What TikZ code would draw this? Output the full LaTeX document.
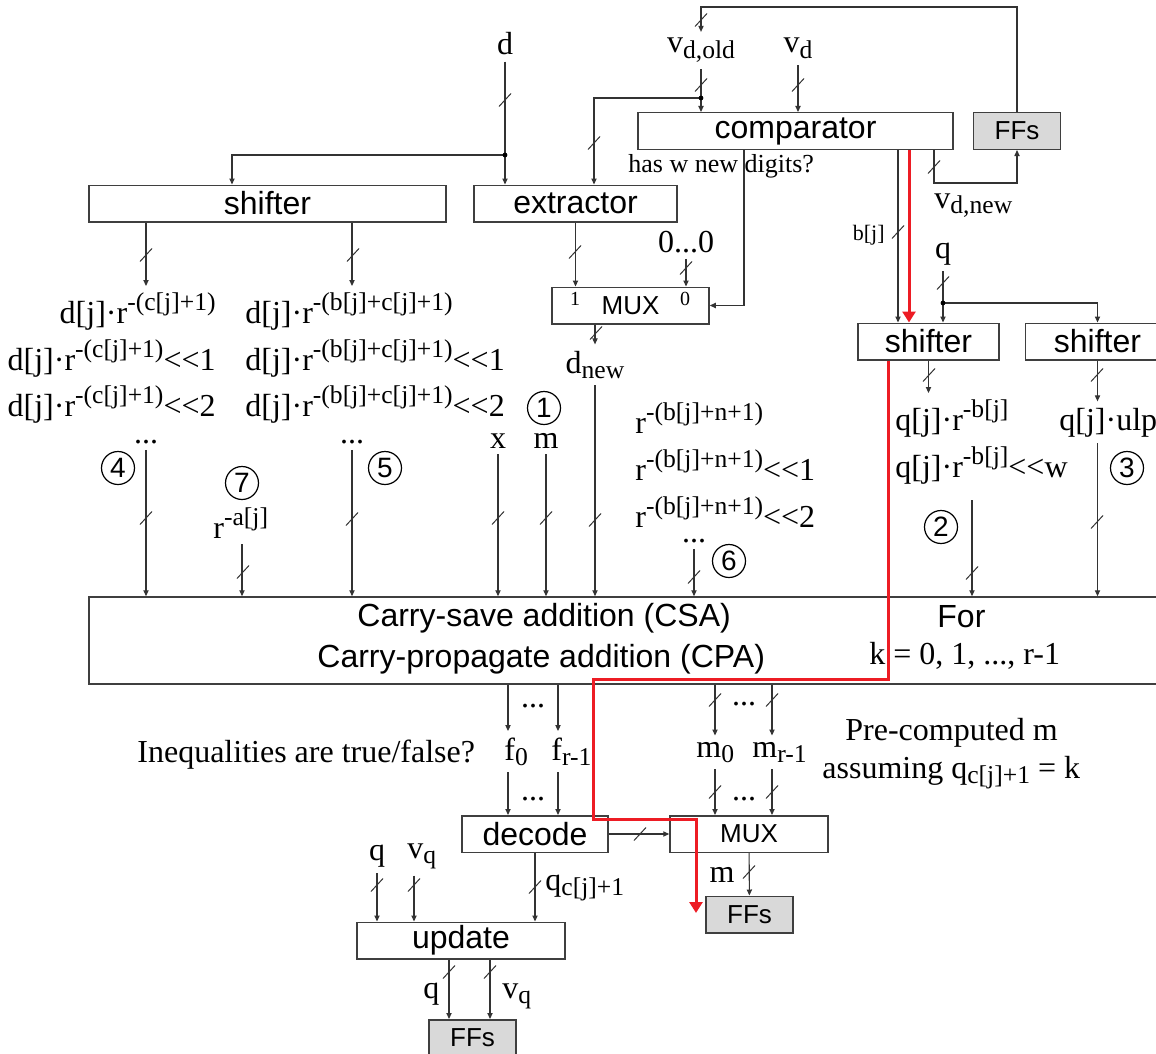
\documentclass[tikz,border=0pt]{standalone}
\usepackage{fontspec}
\setmainfont{Liberation Serif}
\setsansfont{Liberation Sans}
\usepackage{xcolor}
\definecolor{boxGray}{HTML}{3F3F3F}
\definecolor{lineGray}{HTML}{333333}
\definecolor{ffGray}{HTML}{D9D9D9}
\definecolor{critRed}{HTML}{ED1C24}
\usepackage{tikz}
\usetikzlibrary{
    arrows.meta,
    positioning
}
% raised / lowered index text as the slide draws it
\newcommand\suptxt[1]{\raisebox{0.4em}{\fontsize{12.8}{12.8}\selectfont #1}}
\newcommand\subtxt[1]{\raisebox{-0.18em}{\fontsize{12.8}{12.8}\selectfont #1}}
% two less-than signs, kept apart from the font's << ligature
\newcommand\shl{<\kern0pt<}
\tikzset{
    % Base style for the hardware blocks
    block/.style={
        draw=boxGray,
        line width=0.75pt,
        fill=white,
        inner sep=0pt,
        minimum height=18.25pt,
        font=\sffamily\fontsize{16}{16}\selectfont,
    },
    % Flip-flops - grey filled block
    ffbox/.style={
        block,
        fill=ffGray,
        minimum width=43.5pt,
        font=\sffamily\fontsize{13}{13}\selectfont,
    },
    % Multiplexers - smaller text
    muxbox/.style={
        block,
        font=\sffamily\fontsize{13}{13}\selectfont,
    },
    % Signal names
    sig text/.style={
        font=\fontsize{16}{16}\selectfont,
        inner xsep=0pt,
        inner ysep=3pt,
    },
    small text/.style={
        font=\fontsize{13}{13}\selectfont,
        inner xsep=0pt,
        inner ysep=1pt,
    },
    % Circled step numbers
    stepnum/.style={
        circle,
        draw=black,
        line width=0.6pt,
        minimum size=16.5pt,
        inner sep=0pt,
        font=\sffamily\fontsize{14}{14}\selectfont,
    },
    % Wires and arrows
    wire/.style={
        line width=0.55pt,
        draw=lineGray,
    },
    arrow/.style={
        wire,
        -{Triangle[length=3pt, width=2.6pt]},
    },
    red arrow/.style={
        line width=1.5pt,
        draw=critRed,
        -{Triangle[length=5.5pt, width=6.5pt]},
    },
    junction/.style={
        circle,
        fill=black,
        inner sep=0pt,
        minimum size=2.4pt,
    },
    % Bus width slash
    bus/.pic={
        \draw[line width=0.5pt, lineGray] (-6,6.5) -- (6,-6.5);
    },
}

\begin{document}
\begin{tikzpicture}[x=0.5pt, y=-0.5pt]
    \useasboundingbox (0,0) rectangle (1156,1054);

    % blocks
    \node (cmp) [block, minimum width=157.5pt] at (795.5,131) {comparator};
    \node (ffd) [ffbox] at (1017,131) {FFs};
    \node (shd) [block, minimum width=178.5pt] at (267.5,203.5) {shifter};
    \node (ext) [block, minimum width=101.5pt] at (575.5,203.5) {extractor};
    \node (muxd) [muxbox, minimum width=78.5pt] at (630.5,305.5) {MUX};
    \node (shq) [block, minimum width=70.5pt] at (928.5,341.5) {shifter};
    \node (shu) [block, minimum width=72pt] at (1097.5,341.5) {shifter};
    \node (csa) [block, minimum width=555.5pt, minimum height=43.5pt] at (644.5,640.5) {};
    \node (dec) [block, minimum width=73pt] at (535,834) {decode};
    \node (muxm) [muxbox, minimum width=79pt] at (749,834) {MUX};
    \node (ffm) [ffbox] at (749.5,914.5) {FFs};
    \node (upd) [block, minimum width=104pt] at (461,940.5) {update};
    \node (ffq) [ffbox] at (472.5,1038) {FFs};

    % texts inside the adder block
    \node (csatext) [font=\sffamily\fontsize{16}{16}\selectfont, inner sep=0pt, anchor=base west] at (357,626) {Carry-save addition (CSA)};
    \node (cpatext) [font=\sffamily\fontsize{16}{16}\selectfont, inner sep=0pt, anchor=base west] at (317,667) {Carry-propagate addition (CPA)};
    \node (fortext) [font=\sffamily\fontsize{16}{16}\selectfont, inner sep=0pt, anchor=base west] at (937,627) {For};
    \node (krange) [sig text, anchor=base west] at (869,664) {k = 0, 1, ..., r-1};

    % top signals
    \node (din) [sig text, anchor=base] at (505,55) {d};
    \node (vdold) [sig text, anchor=base] at (701,53) {v\subtxt{d,old}};
    \node (vd) [sig text, anchor=base] at (798,53) {v\subtxt{d}};
    \node (digits) [small text, anchor=base west] at (628,172) {has w new digits?};
    \node (vdnew) [sig text, anchor=base west] at (934,208) {v\subtxt{d,new}};
    \node (bj) [small text, font=\fontsize{11}{11}\selectfont, anchor=base east] at (885,240) {b[j]};
    \node (qin) [sig text, anchor=base] at (943,258) {q};
    \node (zeros) [sig text, anchor=base] at (686,252) {0...0};
    \node (sel1) [small text, font=\fontsize{10}{10}\selectfont] at (575,299) {1};
    \node (sel0) [small text, font=\fontsize{10}{10}\selectfont] at (685,299) {0};
    \node (dnew) [sig text, anchor=base] at (595,373) {d\subtxt{new}};

    % shifted divisor terms
    \node (dc0) [sig text, anchor=base east] at (216,323) {d[j]·r\suptxt{-(c[j]+1)}};
    \node (dc1) [sig text, anchor=base east] at (216,370) {d[j]·r\suptxt{-(c[j]+1)}\shl1};
    \node (dc2) [sig text, anchor=base east] at (216,416) {d[j]·r\suptxt{-(c[j]+1)}\shl2};
    \node (dcdots) [sig text, anchor=base] at (146,443) {...};
    \node (db0) [sig text, anchor=base west] at (245,323) {d[j]·r\suptxt{-(b[j]+c[j]+1)}};
    \node (db1) [sig text, anchor=base west] at (245,370) {d[j]·r\suptxt{-(b[j]+c[j]+1)}\shl1};
    \node (db2) [sig text, anchor=base west] at (245,416) {d[j]·r\suptxt{-(b[j]+c[j]+1)}\shl2};
    \node (dbdots) [sig text, anchor=base] at (352,443) {...};
    \node (n4) [stepnum] at (118,468) {4};
    \node (n5) [stepnum] at (385,468) {5};
    \node (n7) [stepnum] at (242,483) {7};
    \node (raj) [sig text, anchor=base west] at (213,538) {r\suptxt{-a[j]}};
    \node (n1) [stepnum] at (544,408) {1};
    \node (xin) [sig text, anchor=base] at (498,448) {x};
    \node (min) [sig text, anchor=base] at (546,448) {m};

    % rounding terms
    \node (rb0) [sig text, anchor=base west] at (635,433) {r\suptxt{-(b[j]+n+1)}};
    \node (rb1) [sig text, anchor=base west] at (635,480) {r\suptxt{-(b[j]+n+1)}\shl1};
    \node (rb2) [sig text, anchor=base west] at (635,527) {r\suptxt{-(b[j]+n+1)}\shl2};
    \node (rbdots) [sig text, anchor=base] at (694,542) {...};
    \node (n6) [stepnum] at (729,561) {6};

    % quotient terms
    \node (qr0) [sig text, anchor=base west] at (895,430) {q[j]·r\suptxt{-b[j]}};
    \node (qr1) [sig text, anchor=base west] at (895,477) {q[j]·r\suptxt{-b[j]}\shl w};
    \node (n2) [stepnum] at (941,527) {2};
    \node (qulp) [sig text, anchor=base west] at (1059,430) {q[j]·ulp};
    \node (n3) [stepnum] at (1127,468) {3};

    % lower signals
    \node (ineq) [sig text, anchor=base west] at (137,762) {Inequalities are true/false?};
    \node (f0) [sig text, anchor=base west] at (504,760) {f\subtxt{0}};
    \node (fr) [sig text, anchor=base west] at (551,760) {f\subtxt{r-1}};
    \node (fdots1) [sig text, anchor=base] at (533,707) {...};
    \node (fdots2) [sig text, anchor=base] at (533,800) {...};
    \node (m0) [sig text, anchor=base west] at (696,757) {m\subtxt{0}};
    \node (mr) [sig text, anchor=base west] at (752,757) {m\subtxt{r-1}};
    \node (mdots1) [sig text, anchor=base] at (744,705) {...};
    \node (mdots2) [sig text, anchor=base] at (744,800) {...};
    \node (precomp) [sig text, anchor=base west] at (845,740) {Pre-computed m};
    \node (assume) [sig text, anchor=base west] at (822,778) {assuming q\subtxt{c[j]+1} = k};
    \node (mout) [sig text, anchor=base east] at (735,882) {m};
    \node (qc) [sig text, anchor=base west] at (545,890) {q\subtxt{c[j]+1}};
    \node (qold) [sig text, anchor=base] at (377,860) {q};
    \node (vqold) [sig text, anchor=base west] at (407,858) {v\subtxt{q}};
    \node (qnew) [sig text, anchor=base west] at (423,998) {q};
    \node (vqnew) [sig text, anchor=base west] at (502,998) {v\subtxt{q}};

    % tap points and bends
    \coordinate (dsplit) at (505,155);
    \coordinate (vsplit) at (701,98);
    \coordinate (fbtop) at (701,7);
    \coordinate (vnew) at (934,183);
    \coordinate (seltap) at (744,305.5);
    \coordinate (bjx) at (898,0);
    \coordinate (critx) at (909,0);
    \coordinate (qsplit) at (943,303);
    \coordinate (qwx) at (972,500);
    \coordinate (fa) at (508,0);
    \coordinate (fb) at (558,0);
    \coordinate (ma) at (715,0);
    \coordinate (mb) at (772,0);
    \coordinate (vqx) at (414,0);
    \coordinate (uq) at (449,0);
    \coordinate (uv) at (490,0);
    \coordinate (r1) at (888,679);
    \coordinate (r2) at (593,819);
    \coordinate (r3) at (696,913);

    % divisor path
    \draw [arrow] (din) -- (din |- ext.north);
    \draw [arrow] (dsplit) -| ([xshift=-17.75pt]shd.north);
    \node [junction] at (dsplit) {};
    \draw [arrow] (vdold) -- (vdold |- cmp.north);
    \draw [arrow] (vsplit) -| ([xshift=9.25pt]ext.north);
    \node [junction] at (vsplit) {};
    \draw [arrow] (vd) -- (vd |- cmp.north);
    \draw [arrow] (ffd.north) |- (fbtop) -- (vdold.north);
    \draw [arrow] (cmp.south -| vnew) -- (vnew) -| (ffd.south);
    \draw [arrow] (cmp.south -| seltap) -- (seltap) -- (muxd.east);
    \draw [arrow] (ext) -- (ext |- muxd.north);
    \draw [arrow] (zeros) -- (zeros |- muxd.north);
    \draw [arrow] (muxd.south -| dnew) -- (dnew);
    \draw [arrow] (shd.south -| dcdots) -- (dc0.north -| dcdots);
    \draw [arrow] (shd.south -| dbdots) -- (db0.north -| dbdots);

    % quotient path
    \draw [arrow] (cmp.south -| bjx) -- (shq.north -| bjx);
    \draw [arrow] (qin) -- (qin |- shq.north);
    \draw [arrow] (qsplit) -| (shu.north);
    \node [junction] at (qsplit) {};
    \draw [arrow] (shq) -- (shq |- qr0.north);
    \draw [arrow] (shu) -- (shu |- qulp.north);

    % adder inputs
    \draw [arrow] (dcdots) -- (dcdots |- csa.north);
    \draw [arrow] (raj.south -| n7) -- (csa.north -| n7);
    \draw [arrow] (dbdots) -- (dbdots |- csa.north);
    \draw [arrow] (xin) -- (xin |- csa.north);
    \draw [arrow] (min) -- (min |- csa.north);
    \draw [arrow] (dnew) -- (dnew |- csa.north);
    \draw [arrow] (rbdots) -- (rbdots |- csa.north);
    \draw [arrow] (qwx) -- (qwx |- csa.north);
    \draw [arrow] (qulp.south -| shu) -- (csa.north -| shu);

    % adder outputs
    \draw [arrow] (csa.south -| fa) -- (f0.north -| fa);
    \draw [arrow] (csa.south -| fb) -- (fr.north -| fb);
    \draw [arrow] (f0.south -| fa) -- (dec.north -| fa);
    \draw [arrow] (fr.south -| fb) -- (dec.north -| fb);
    \draw [arrow] (csa.south -| ma) -- (m0.north -| ma);
    \draw [arrow] (csa.south -| mb) -- (mr.north -| mb);
    \draw [arrow] (m0.south -| ma) -- (muxm.north -| ma);
    \draw [arrow] (mr.south -| mb) -- (muxm.north -| mb);
    \draw [arrow] (dec) -- (muxm);
    \draw [arrow] (muxm) -- (ffm);
    \draw [arrow] (dec) -- (dec |- upd.north);
    \draw [arrow] (qold) -- (qold |- upd.north);
    \draw [arrow] (vqold.south -| vqx) -- (upd.north -| vqx);
    \draw [arrow] (upd.south -| uq) -- (ffq.north -| uq);
    \draw [arrow] (upd.south -| uv) -- (ffq.north -| uv);

    % critical path
    \draw [red arrow] (cmp.south -| critx) -- (shq.north -| critx);
    \draw [red arrow] (shq.south -| r1) -- (r1) -| (r2) -| (r3);

    % bus widths
    \foreach \tk in {(505,100), (701,20), (701,85), (798,85), (594,143),
        (934,167), (898,232), (943,283), (146,255), (353,255), (575,252),
        (686,268), (596,333), (929,375), (1097,375), (146,518), (243,572),
        (352,519), (498,518), (546,518), (595,520), (694,577), (972,573),
        (1097,522), (715,700), (772,700), (715,792), (772,792), (640,834),
        (749,872), (377,885), (414,885), (535,887), (449,972), (490,972)}
        \pic at \tk {bus};
\end{tikzpicture}
\end{document}
